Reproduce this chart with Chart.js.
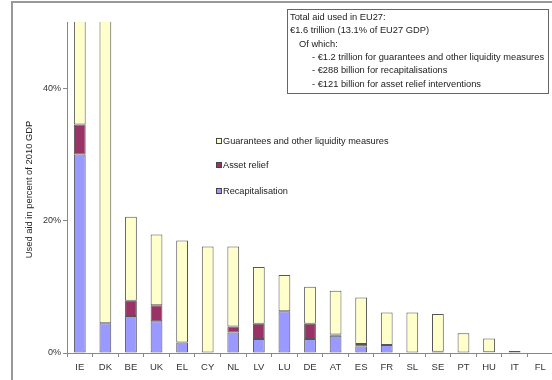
<!DOCTYPE html>
<html>
<head>
<meta charset="utf-8">
<script src="https://cdn.jsdelivr.net/npm/chart.js@4"></script>
<style>
  html, body { margin: 0; padding: 0; overflow: hidden; background: #fff; }
  #wrap { width: 560px; height: 380px; }
</style>
</head>
<body>
<div id="wrap"><canvas id="c" width="560" height="380"></canvas></div>
<script>
// State aid used, in percent of 2010 GDP, by member state
const countries = ['IE','DK','BE','UK','EL','CY','NL','LV','LU','DE','AT','ES','FR','SL','SE','PT','HU','IT','FL'];
const recapitalisation = [30.0, 4.5, 5.6, 4.8, 1.6, 0, 3.1, 2.1, 6.3, 2.1, 2.6, 1.0, 1.2, 0, 0.2, 0, 0.1, 0.3, 0];
const assetRelief      = [4.5, 0, 2.3, 2.4, 0, 0, 0.9, 2.3, 0, 2.3, 0.2, 0.35, 0, 0, 0, 0, 0, 0, 0];
const guarantees       = [200, 190, 12.7, 10.7, 15.4, 16.1, 12.1, 8.6, 5.5, 5.6, 6.6, 7.05, 4.9, 6.1, 5.7, 3.0, 2.1, 0, 0];
const yTickValues = [0, 20, 40];
const yAxisTitle = 'Used aid in percent of 2010 GDP';
const seriesNames = ['Recapitalisation', 'Asset relief', 'Guarantees and other liquidity measures'];
const seriesColors = ['#9999ff', '#993366', '#ffffcc'];
const summaryLines = [
  ['Total aid used in EU27:', 0],
  ['\u20AC1.6 trillion (13.1% of EU27 GDP)', 0],
  ['Of which:', 9],
  ['- \u20AC1.2 trillion for guarantees and other liquidity measures', 22],
  ['- \u20AC288 billion for recapitalisations', 22],
  ['- \u20AC121 billion for asset relief interventions', 22]
];

const FONT = '"Liberation Sans", Arial, sans-serif';
const noZero = arr => arr.map(v => (v === 0 ? null : v));

// Outer frame, axis title, summary text box and the in-plot legend
const decorations = {
  id: 'decorations',
  beforeDraw(chart) {
    const ctx = chart.ctx;
    ctx.save();
    ctx.strokeStyle = '#999';
    ctx.lineWidth = 2;
    ctx.beginPath();
    ctx.moveTo(12, 380);
    ctx.lineTo(12, 2);
    ctx.lineTo(chart.width, 2);
    ctx.stroke();
    ctx.restore();
  },
  afterDraw(chart) {
    const ctx = chart.ctx;
    const area = chart.chartArea;
    ctx.save();
    // vertical axis title
    ctx.save();
    ctx.translate(29, (area.top + area.bottom) / 2 + 2);
    ctx.rotate(-Math.PI / 2);
    ctx.fillStyle = '#222';
    ctx.font = '9.4px ' + FONT;
    ctx.textAlign = 'center';
    ctx.textBaseline = 'middle';
    ctx.fillText(yAxisTitle, 0, 0);
    ctx.restore();
    // summary box
    ctx.fillStyle = '#fff';
    ctx.fillRect(287.5, 9.5, 261, 84);
    ctx.strokeStyle = '#666';
    ctx.lineWidth = 1;
    ctx.strokeRect(287.5, 9.5, 261, 84);
    ctx.fillStyle = '#222';
    ctx.font = '9.3px ' + FONT;
    ctx.textBaseline = 'middle';
    ctx.textAlign = 'left';
    summaryLines.forEach((l, i) => {
      ctx.fillText(l[0], 290 + l[1], 17.5 + i * 13.3);
    });
    // legend, top entry first
    const ys = [141, 165, 191];
    const order = [2, 1, 0];
    ctx.font = '9.2px ' + FONT;
    order.forEach((di, i) => {
      const y = ys[i];
      ctx.fillStyle = seriesColors[di];
      ctx.fillRect(216, y - 3, 6, 6);
      ctx.strokeStyle = '#444';
      ctx.strokeRect(216.5, y - 2.5, 5, 5);
      ctx.fillStyle = '#222';
      ctx.fillText(seriesNames[di], 223, y + 0.5);
    });
    ctx.restore();
  }
};

const datasets = [recapitalisation, assetRelief, guarantees].map((vals, i) => ({
  label: seriesNames[i],
  data: noZero(vals),
  backgroundColor: seriesColors[i],
  borderColor: '#555',
  borderWidth: 1,
  borderSkipped: false,
  stack: 'aid',
  categoryPercentage: 1,
  barPercentage: 0.46
}));

new Chart(document.getElementById('c'), {
  type: 'bar',
  data: { labels: countries, datasets },
  plugins: [decorations],
  options: {
    responsive: false,
    animation: false,
    devicePixelRatio: 1,
    layout: { padding: { top: 22, left: 20, right: 7, bottom: 0 } },
    plugins: { legend: { display: false }, tooltip: { enabled: false } },
    scales: {
      x: {
        stacked: true,
        afterFit(s) { s.height = 27; },
        grid: { display: true, drawOnChartArea: false, tickLength: 4, color: '#888', offset: true },
        border: { display: true, color: '#888', width: 1 },
        ticks: { color: '#333', font: { family: FONT, size: 9.5 }, padding: 5, maxRotation: 0, autoSkip: false }
      },
      y: {
        stacked: true,
        min: 0,
        max: 50,
        afterFit(s) { s.width = 47; },
        afterBuildTicks(s) { s.ticks = yTickValues.map(v => ({ value: v })); },
        grid: { display: true, drawOnChartArea: false, tickLength: 4, color: '#888' },
        border: { display: true, color: '#888', width: 1 },
        ticks: { color: '#333', font: { family: FONT, size: 9 }, padding: 2, callback: v => v + '%' }
      }
    }
  }
});
</script>
</body>
</html>
